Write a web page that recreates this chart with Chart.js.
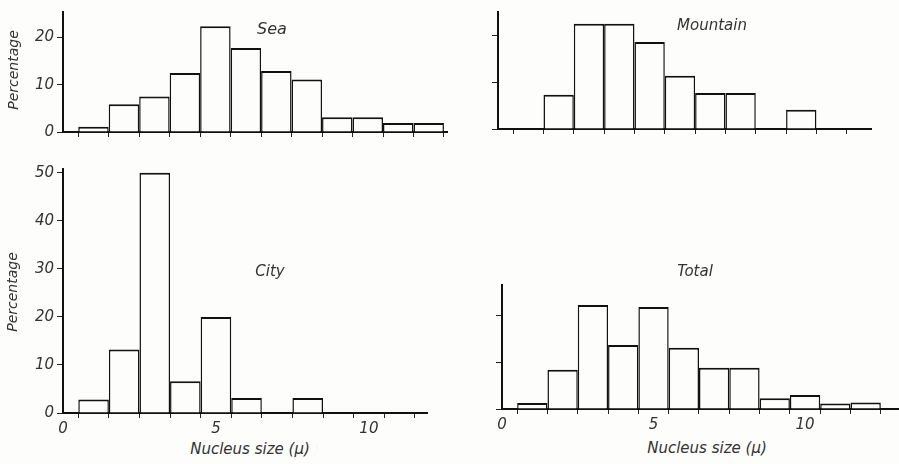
<!DOCTYPE html>
<html>
<head>
<meta charset="utf-8">
<script src="https://cdn.jsdelivr.net/npm/chart.js@4.4.1/dist/chart.umd.min.js"></script>
<style>
  body { margin: 0; background: #fff; }
  #page { position: relative; width: 899px; height: 464px; overflow: hidden; background: #fdfdfc; }
  canvas { position: absolute; }
  .lbl { position: absolute; font: italic 15px "DejaVu Sans", sans-serif; color: #333; white-space: nowrap; transform: translate(-50%, -50%); }
  .rot { transform: translate(-50%, -50%) rotate(-90deg); font-size: 14px; }
</style>
</head>
<body>
<div id="page">
  <canvas id="sea" width="457" height="144" style="left:0;top:0"></canvas>
  <canvas id="mountain" width="403" height="141" style="left:478px;top:0"></canvas>
  <canvas id="city" width="437" height="280" style="left:0;top:157px"></canvas>
  <canvas id="total" width="417" height="160" style="left:482px;top:273px"></canvas>

  <div class="lbl" style="left:272px;top:28px;font-size:16px">Sea</div>
  <div class="lbl" style="left:712px;top:25px">Mountain</div>
  <div class="lbl" style="left:270px;top:271px">City</div>
  <div class="lbl" style="left:695px;top:271px">Total</div>
  <div class="lbl rot" style="left:13px;top:70px">Percentage</div>
  <div class="lbl rot" style="left:12px;top:292px">Percentage</div>
  <div class="lbl" style="left:250px;top:449px">Nucleus size (μ)</div>
  <div class="lbl" style="left:707px;top:448px">Nucleus size (μ)</div>
</div>

<script>
// nucleus size classes (bin centres, microns)
var sizes = [1, 2, 3, 4, 5, 6, 7, 8, 9, 10, 11, 12];
// percentage in each class
var seaPct      = [1.1, 5.9, 7.5, 12.5, 22.4, 17.8, 12.9, 11.1, 3.1, 3.1, 1.9, 1.9];
var mountainPct = [0, 7.3, 22.5, 22.5, 18.6, 11.4, 7.7, 7.7, 0, 4.1, 0, 0];
var cityPct     = [2.8, 13.2, 50, 6.6, 20, 3.1, 0, 3.1, 0, 0, 0, 0];
var totalPct    = [1.3, 8.4, 22.2, 13.7, 21.8, 13.1, 8.8, 8.8, 2.3, 3.0, 1.2, 1.4];
// x tick values that get a number
var xLabelTicks = [0, 5, 10];

Chart.defaults.font.family = '"DejaVu Sans", sans-serif';
Chart.defaults.font.style = 'italic';
Chart.defaults.font.size = 15;
Chart.defaults.color = '#333';

function makePanel(id, values, cfg) {
    // empty classes are left out so they don't draw a stub on the axis
    var points = sizes.map(function (s, i) { return { x: s, y: values[i] || null }; });
    return new Chart(document.getElementById(id), {
        type: 'bar',
        data: {
            datasets: [{
                data: points,
                backgroundColor: '#fdfdfc',
                borderColor: '#111',
                borderWidth: { top: 2, left: 1.5, right: 1.5, bottom: 0 },
                inflateAmount: 0,
                barPercentage: 1,
                categoryPercentage: 1
            }]
        },
        options: {
            responsive: false,
            animation: false,
            layout: { padding: { top: cfg.padT, right: cfg.padR, left: 0, bottom: 0 } },
            plugins: { legend: { display: false }, tooltip: { enabled: false } },
            scales: {
                x: {
                    type: 'linear',
                    min: 0,
                    max: cfg.xMax,
                    offset: false,
                    ticks: {
                        stepSize: 1,
                        includeBounds: false,
                        autoSkip: false,
                        maxRotation: 0,
                        padding: 2,
                        callback: function (v) {
                            return cfg.xLabels && xLabelTicks.indexOf(v) >= 0 ? v : '';
                        }
                    },
                    grid: { drawOnChartArea: false, drawTicks: true, tickLength: 5, color: '#222', lineWidth: 1 },
                    border: { color: '#111', width: 2 },
                    afterFit: function (s) { s.height = cfg.padB; }
                },
                y: {
                    min: 0,
                    max: cfg.yMax,
                    ticks: {
                        stepSize: 10,
                        includeBounds: false,
                        padding: 3,
                        callback: function (v) { return cfg.yLabels ? v : ''; }
                    },
                    grid: { drawOnChartArea: false, drawTicks: true, tickLength: 6, color: '#222', lineWidth: 1 },
                    border: { color: '#111', width: 2 },
                    afterFit: function (s) { s.width = cfg.padL; }
                }
            }
        }
    });
}

makePanel('sea', seaPct, { xMax: 12.6, yMax: 25.4, padL: 63, padT: 10, padR: 10, padB: 12, xLabels: false, yLabels: true });
makePanel('mountain', mountainPct, { xMax: 12.3, yMax: 25, padL: 20, padT: 10, padR: 10, padB: 12, xLabels: false, yLabels: false });
makePanel('city', cityPct, { xMax: 11.9, yMax: 50.8, padL: 63, padT: 10, padR: 10, padB: 24, xLabels: true, yLabels: true });
makePanel('total', totalPct, { xMax: 13.1, yMax: 26.5, padL: 20, padT: 10, padR: 0, padB: 24, xLabels: true, yLabels: false });
</script>
</body>
</html>
